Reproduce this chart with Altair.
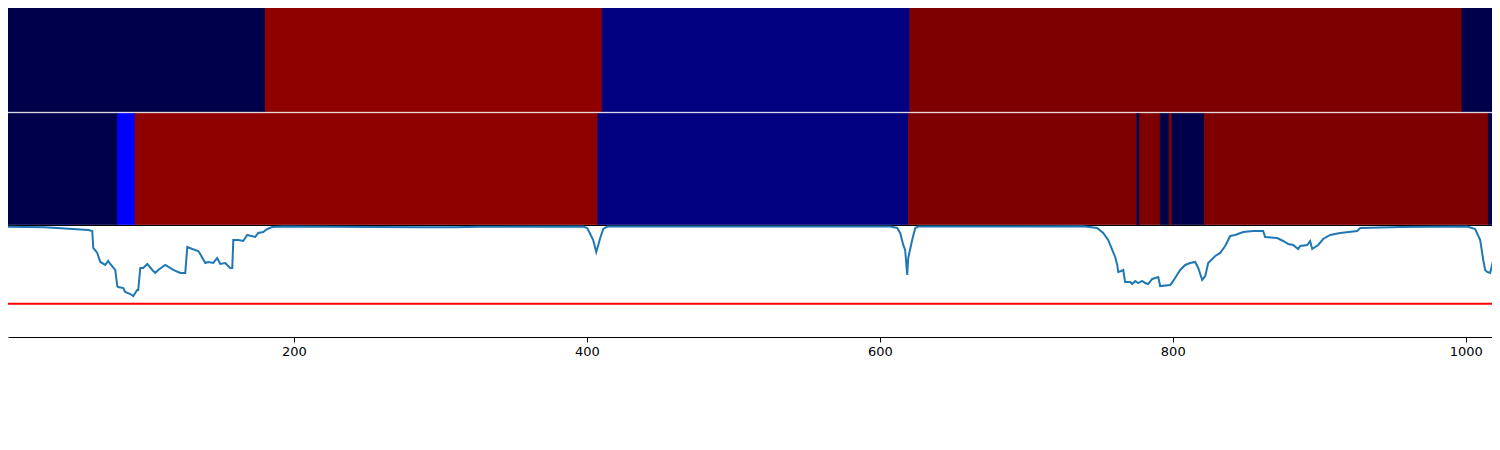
import altair as alt
import pandas as pd

# ---- data ----
class_names = ["c0", "c1", "c2", "c3", "c4"]
class_colors = ["#00004a", "#0000ff", "#000080", "#7f0000", "#8f0000"]

top_start = [-0.5, 180.5, 410.5, 620.5, 997.5]
top_end = [180.5, 410.5, 620.5, 997.5, 1023.5]
top_class = ["c0", "c4", "c2", "c3", "c0"]

mid_start = [-0.5, 79.5, 91.5, 407.5, 619.5, 775.5, 777.5, 791.5, 797.5, 799.5, 821.5, 1015.5]
mid_end = [79.5, 91.5, 407.5, 619.5, 775.5, 777.5, 791.5, 797.5, 799.5, 821.5, 1015.5, 1023.5]
mid_class = ["c0", "c1", "c4", "c2", "c3", "c0", "c3", "c0", "c3", "c0", "c3", "c0"]

curve_x = [0, 30.2, 59.6, 62.3, 63, 65.7, 67.8, 71.2, 73.2, 74.6, 78, 79.4, 80, 83.5, 84.8,
           88.3, 90.3, 93, 93.7, 95.1, 97.1, 99.9, 103.3, 105.3, 107.4, 112.1, 117.6, 122.4,
           125.8, 127.2, 130.6, 134.7, 136, 139.5, 141.5, 144.9, 147.6, 149.7, 153.1, 156.5,
           157.9, 158.6, 162, 165.4, 168.1, 173.6, 175.6, 179, 181.8, 185.2, 192.7, 287.6,
           308.8, 327, 397.5, 400.2, 402.3, 404.3, 406.4, 407.8, 409.1, 411.2, 413.9, 607.1,
           611.9, 613.9, 616, 617.3, 618.7, 619.4, 622.1, 624.2, 626.2, 738.9, 748.4, 752.5,
           755.9, 758.7, 760.7, 762.1, 762.8, 764.8, 766.2, 767.5, 771, 772.3, 774.4, 776.4,
           779.1, 781.2, 783.2, 786, 788, 790.1, 791.4, 798.3, 800.3, 805.1, 808.5, 811.9,
           815.3, 817.4, 820.1, 822.2, 824.2, 829, 832.4, 835.8, 839.2, 842.6, 848.1, 854.9,
           861.7, 863.1, 871.3, 875.4, 878.8, 882.2, 885.6, 887, 891.8, 893.8, 895.2, 899.3,
           902.7, 907.5, 914.3, 925.9, 928, 955.3, 1001, 1006.5, 1009.9, 1012, 1013.3, 1014.7,
           1016.7, 1018.8, 1021.5, 1023.5]
curve_y = [0.993, 0.988, 0.964, 0.955, 0.802, 0.757, 0.676, 0.649, 0.685, 0.658, 0.604, 0.459,
           0.45, 0.441, 0.405, 0.387, 0.369, 0.423, 0.423, 0.622, 0.622, 0.658, 0.604, 0.577,
           0.604, 0.649, 0.604, 0.577, 0.577, 0.811, 0.793, 0.775, 0.748, 0.667, 0.676, 0.667,
           0.712, 0.658, 0.667, 0.622, 0.622, 0.874, 0.874, 0.865, 0.919, 0.901, 0.937, 0.946,
           0.973, 0.991, 0.995, 0.988, 0.988, 0.993, 0.995, 0.982, 0.928, 0.874, 0.766, 0.829,
           0.892, 0.973, 0.995, 0.995, 0.982, 0.937, 0.829, 0.784, 0.559, 0.712, 0.874, 0.982,
           0.995, 0.997, 0.982, 0.937, 0.874, 0.784, 0.721, 0.649, 0.586, 0.595, 0.604, 0.495,
           0.495, 0.477, 0.505, 0.486, 0.505, 0.486, 0.477, 0.523, 0.532, 0.541, 0.459, 0.468,
           0.505, 0.604, 0.649, 0.667, 0.676, 0.622, 0.514, 0.55, 0.667, 0.73, 0.757, 0.82,
           0.91, 0.919, 0.946, 0.955, 0.955, 0.901, 0.892, 0.865, 0.838, 0.829, 0.793, 0.82,
           0.829, 0.865, 0.793, 0.829, 0.883, 0.919, 0.937, 0.955, 0.982, 0.991, 0.995, 0.973,
           0.874, 0.694, 0.604, 0.586, 0.577, 0.694, 0.874, 0.901]
threshold = [0.3]
x_ticks = [0, 200, 400, 600, 800, 1000]

# ---- layout (pixels inside the chart) ----
W = 1484
H = 329
TOP_Y = (0, 103.6)
MID_Y = (105.4, 216.6)
LINE_Y = (218, 329)

xs = alt.Scale(domain=[4.78, 1017.97], nice=False, zero=False)
color_scale = alt.Scale(domain=class_names, range=class_colors)
ys = alt.Scale(domain=[0, 1], nice=False, zero=False, range=[LINE_Y[1], LINE_Y[0]])

top_df = pd.DataFrame({"start": top_start, "end": top_end, "cls": top_class})
mid_df = pd.DataFrame({"start": mid_start, "end": mid_end, "cls": mid_class})
curve_df = pd.DataFrame({"x": curve_x, "p": curve_y})
thr_df = pd.DataFrame({"t": threshold})

x_axis = alt.Axis(values=x_ticks, format="d", title=None, grid=False, domainColor="black",
                  tickColor="black", tickSize=5, labelColor="black",
                  labelFont="DejaVu Sans", labelFontSize=13, labelPadding=3,
                  labelFlush=False)


def band(df, yr):
    return alt.Chart(df).mark_rect(clip=True, strokeWidth=0.8).encode(
        x=alt.X("start:Q", scale=xs, axis=x_axis),
        x2="end:Q",
        y=alt.value(yr[0]),
        y2=alt.value(yr[1]),
        color=alt.Color("cls:N", scale=color_scale, legend=None),
        stroke=alt.Stroke("cls:N", scale=color_scale, legend=None),
    )


top = band(top_df, TOP_Y)
mid = band(mid_df, MID_Y)

line = alt.Chart(curve_df).mark_line(color="#1f77b4", strokeWidth=2, clip=True).encode(
    x=alt.X("x:Q", scale=xs, axis=x_axis),
    y=alt.Y("p:Q", scale=ys, axis=None),
)
rule = alt.Chart(thr_df).mark_rule(color="#ff0000", strokeWidth=2).encode(
    y=alt.Y("t:Q", scale=ys, axis=None)
)
sep = alt.Chart(thr_df).mark_rule(color="black", strokeWidth=1).encode(
    y=alt.value(217.5)
)

chart = alt.layer(top, mid, sep, line, rule).properties(
    width=W,
    height=H,
    autosize=alt.AutoSizeParams(type="none"),
    padding={"left": 0, "right": 0, "top": 0, "bottom": 30},
).configure_view(stroke=None)

chart.save("out.html", embed_options={"renderer": "svg", "actions": False})
